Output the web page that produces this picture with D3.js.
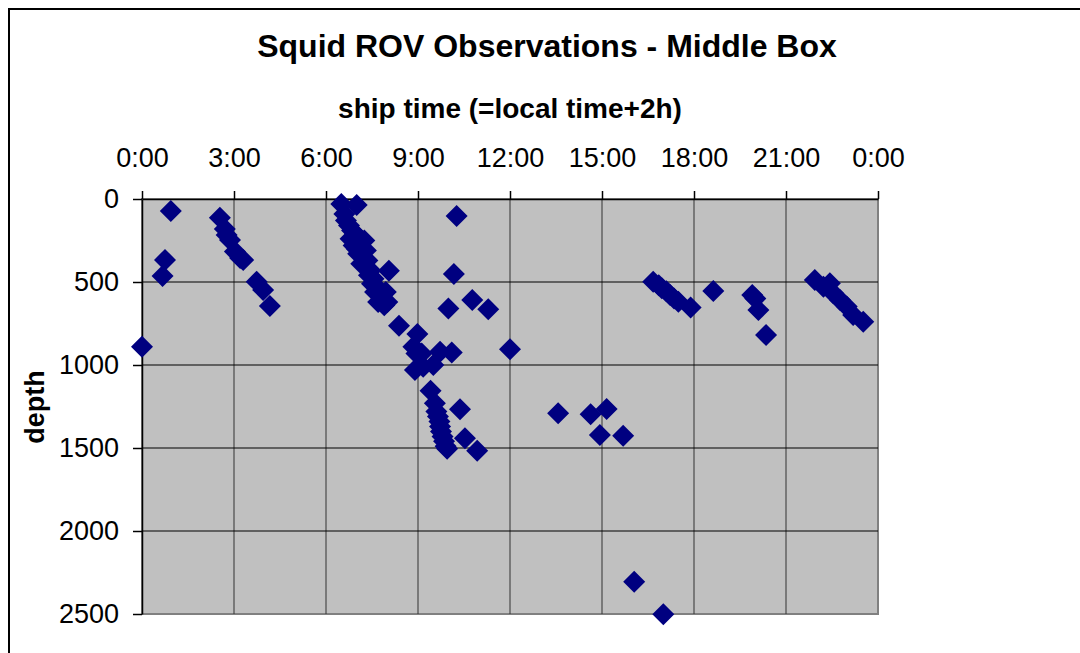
<!DOCTYPE html>
<html>
<head>
<meta charset="utf-8">
<script src="https://cdn.jsdelivr.net/npm/d3@7"></script>
<style>
  body { margin: 0; background: #fff; }
  text { font-family: "Liberation Sans", Arial, sans-serif; }
</style>
</head>
<body>
<div id="chart"></div>
<script>
// observation times (ship time, decimal hours) and depths (m)
var obsTime = [
  0.0, 0.94, 0.75, 0.67,
  2.54, 2.7, 2.76, 2.87, 3.03, 3.2, 3.3, 3.74, 3.95, 4.17,
  6.5, 7.0, 6.6, 6.65, 6.75, 6.85, 6.95, 7.05, 6.8, 7.1, 7.25, 6.9, 7.0, 7.15, 7.3,
  7.05, 7.2, 7.35, 7.15, 7.3, 7.45, 7.4, 7.55, 7.5, 7.65, 7.6, 7.75, 7.85, 7.7, 7.9,
  7.95, 8.0,
  10.26, 10.17, 8.05, 8.38, 8.98, 10.77, 11.29, 9.99, 12.0,
  8.85, 8.95, 9.12, 8.9, 9.17, 9.5, 9.72, 10.1,
  9.41, 9.55, 9.6, 9.65, 9.7, 9.72, 9.75, 9.8, 9.85, 9.9, 9.95,
  10.37, 10.53, 10.93,
  13.57, 14.63, 15.15, 14.93, 15.69, 16.05, 17.0,
  16.67, 16.85, 16.95, 17.1, 17.22, 17.35, 17.49, 17.89,
  18.63,
  19.9, 20.0, 20.1, 20.35,
  21.94, 22.22, 22.43, 22.54, 22.76, 22.98, 23.19, 23.52
];
var obsDepth = [
  890, 72, 367, 464,
  113, 180, 217, 247, 317, 355, 367, 498, 548, 645,
  30, 36, 90, 130, 160, 190, 210, 230, 240, 260, 250, 280, 300, 290, 310,
  330, 350, 370, 390, 410, 430, 460, 480, 510, 530, 560, 580, 600, 620, 640,
  560, 620,
  102, 452, 432, 763, 813, 608, 664, 659, 905,
  890, 930, 930, 1030, 1010, 1000, 920, 925,
  1155, 1231, 1280, 1310, 1340, 1370, 1400, 1430, 1460, 1490, 1505,
  1267, 1442, 1516,
  1291, 1297, 1265, 1422, 1426, 2305, 2502,
  498, 520, 538, 555, 578, 600, 619, 653,
  554,
  578, 600, 669, 819,
  488, 528, 508, 568, 608, 648, 699, 739
];

var timeTicks = [0, 3, 6, 9, 12, 15, 18, 21, 24];
var depthTicks = [0, 500, 1000, 1500, 2000, 2500];

var svgWidth = 1080;
var svgHeight = 653;

var plot = { left: 142, top: 199, right: 878, bottom: 614 };
var plotWidth = plot.right - plot.left;
var plotHeight = plot.bottom - plot.top;

var svg = d3.select("#chart")
  .append("svg")
  .attr("width", svgWidth)
  .attr("height", svgHeight);

// outer chart frame (runs off the right and bottom edge)
svg.append("rect")
  .attr("x", 9).attr("y", 9)
  .attr("width", 1200).attr("height", 800)
  .attr("fill", "#fff")
  .attr("stroke", "#000")
  .attr("stroke-width", 2);

// titles
svg.append("text")
  .attr("x", 547).attr("y", 57)
  .attr("text-anchor", "middle")
  .attr("font-weight", "bold")
  .attr("font-size", "32px")
  .text("Squid ROV Observations - Middle Box");

svg.append("text")
  .attr("x", 510).attr("y", 118)
  .attr("text-anchor", "middle")
  .attr("font-weight", "bold")
  .attr("font-size", "28px")
  .text("ship time (=local time+2h)");

svg.append("text")
  .attr("transform", "translate(44, 407) rotate(-90)")
  .attr("text-anchor", "middle")
  .attr("font-weight", "bold")
  .attr("font-size", "27px")
  .text("depth");

var chartGroup = svg.append("g")
  .attr("transform", `translate(${plot.left}, ${plot.top})`);

var xScale = d3.scaleLinear().domain([0, 24]).range([0, plotWidth]);
var yScale = d3.scaleLinear().domain([0, 2500]).range([0, plotHeight]);

// plot background
chartGroup.append("rect")
  .attr("width", plotWidth)
  .attr("height", plotHeight)
  .attr("fill", "#c0c0c0")
  .attr("stroke", "#808080")
  .attr("stroke-width", 2);

// gridlines
chartGroup.append("g")
  .selectAll("line")
  .data(timeTicks.slice(1, -1))
  .enter()
  .append("line")
  .attr("x1", d => xScale(d)).attr("x2", d => xScale(d))
  .attr("y1", 0).attr("y2", plotHeight)
  .attr("stroke", "#333")
  .attr("stroke-width", 1);

chartGroup.append("g")
  .selectAll("line")
  .data(depthTicks.slice(1, -1))
  .enter()
  .append("line")
  .attr("x1", 0).attr("x2", plotWidth)
  .attr("y1", d => yScale(d)).attr("y2", d => yScale(d))
  .attr("stroke", "#000")
  .attr("stroke-width", 1);

// axes
var topAxis = d3.axisTop(xScale)
  .tickValues(timeTicks)
  .tickFormat(d => (d % 24) + ":00")
  .tickSize(8)
  .tickSizeOuter(0)
  .tickPadding(24);

var leftAxis = d3.axisLeft(yScale)
  .tickValues(depthTicks)
  .tickFormat(d => String(d))
  .tickSize(9)
  .tickSizeOuter(0)
  .tickPadding(14);

chartGroup.append("g")
  .attr("class", "axis")
  .call(topAxis);

chartGroup.append("g")
  .attr("class", "axis")
  .call(leftAxis);

svg.selectAll(".axis text")
  .attr("font-size", "27px")
  .attr("font-family", "Liberation Sans, Arial, sans-serif")
  .attr("fill", "#000");
svg.selectAll(".axis line, .axis path")
  .attr("stroke", "#000")
  .attr("stroke-width", 1.5);

// observation markers (navy diamonds)
var diamond = d3.symbol().type(d3.symbolSquare).size(242);

chartGroup.append("g")
  .selectAll("path")
  .data(obsTime.map((t, i) => ({ t: t, d: obsDepth[i] })))
  .enter()
  .append("path")
  .attr("d", diamond)
  .attr("transform", d => `translate(${xScale(d.t)}, ${yScale(d.d)}) rotate(45)`)
  .attr("fill", "#000080");
</script>
</body>
</html>
